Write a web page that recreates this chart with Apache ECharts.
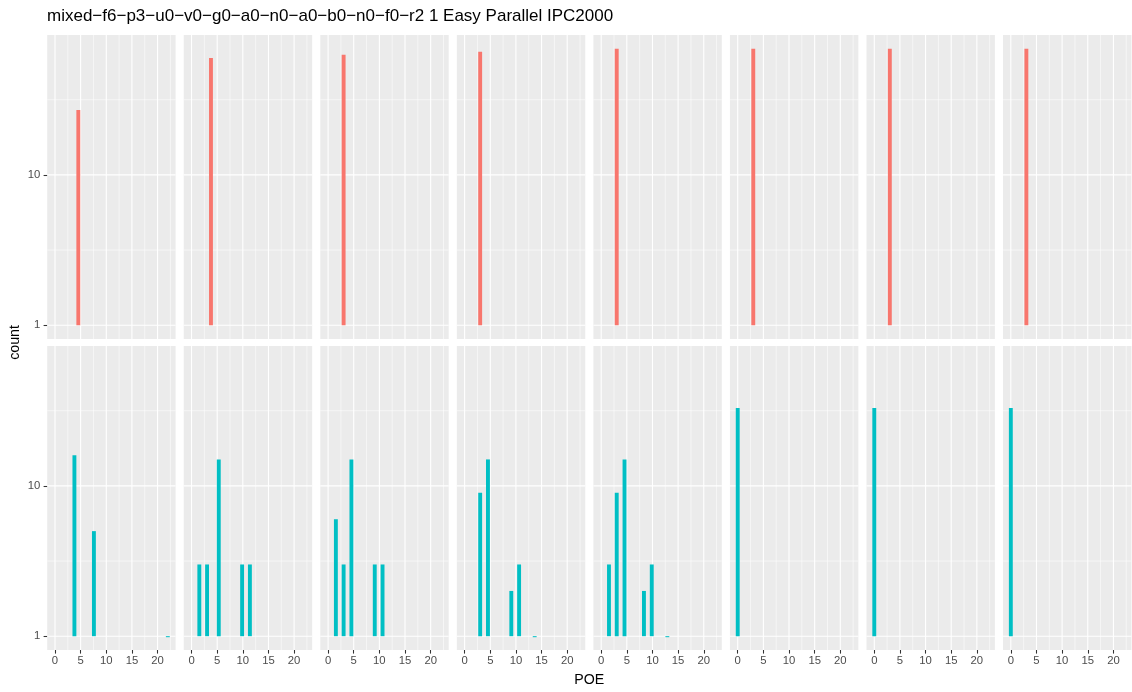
<!DOCTYPE html>
<html>
<head>
<meta charset="utf-8">
<script src="https://cdn.jsdelivr.net/npm/echarts@6/dist/echarts.min.js"></script>
<style>
  html, body { margin: 0; padding: 0; background: #ffffff; }
  #chart { width: 1132px; height: 692px; }
</style>
</head>
<body>
<div id="chart"></div>
<script>
// ---- data -------------------------------------------------------------
const titleText = 'mixed\u2212f6\u2212p3\u2212u0\u2212v0\u2212g0\u2212a0\u2212n0\u2212a0\u2212b0\u2212n0\u2212f0\u2212r2 1 Easy Parallel IPC2000';
const xTitle = 'POE';
const yTitle = 'count';

// x ticks (POE) and y ticks (count, log10 scale)
const xTicks = [0, 5, 10, 15, 20];
const yTicks = [1, 10];

// histogram: 30 bins spanning POE 0..22, bars at bin centres
const poeMin = 0;
const poeMax = 22;
const binCount = 30;

// top row (one bar per panel)
const topPoe   = [[4.55], [3.79], [3.03], [3.03], [3.03], [3.03], [3.03], [3.03]];
const topCount = [[27],   [60],   [63],   [66],   [69],   [69],   [69],   [69]];

// bottom row
const bottomPoe = [
  [3.79, 7.59, 22.0],
  [1.52, 3.03, 5.31, 9.86, 11.38],
  [1.52, 3.03, 4.55, 9.10, 10.62],
  [3.03, 4.55, 9.10, 10.62, 13.66],
  [1.52, 3.03, 4.55, 8.34, 9.86, 12.90],
  [0],
  [0],
  [0]
];
const bottomCount = [
  [16, 5, 1],
  [3, 3, 15, 3, 3],
  [6, 3, 15, 3, 3],
  [9, 15, 2, 3, 1],
  [3, 9, 15, 2, 3, 1],
  [33],
  [33],
  [33]
];

const rowColors = ['#F8766D', '#00BFC4'];

// ---- scales -------------------------------------------------------------
const binWidth = (poeMax - poeMin) / (binCount - 1);
const xLo = poeMin - binWidth / 2, xHi = poeMax + binWidth / 2;
const xPad = (xHi - xLo) * 0.05;
const xMin = xLo - xPad, xMax = xHi + xPad;

const allCounts = topCount.flat().concat(bottomCount.flat());
const logMax = Math.log10(Math.max(...allCounts));
const yMin = -logMax * 0.05, yMax = logMax * 1.05;

const yTickLog = yTicks.map(v => Math.log10(v));
const yMinorLog = yTickLog.map(v => v + 0.5);
const xMinor = xTicks.map(v => v + 2.5);

// grid line list: [isVertical, value, isMajor]
const gridLineData = []
  .concat(xMinor.map(v => [1, v, 0]))
  .concat(yMinorLog.map(v => [0, v, 0]))
  .concat(xTicks.map(v => [1, v, 1]))
  .concat(yTickLog.map(v => [0, v, 1]));

// ---- layout -------------------------------------------------------------
const panelLeft0 = 47.2, panelPitch = 136.55, panelW = 128.4;
const rowTop = [35, 346], panelH = 304;
const FONT = 'Liberation Sans, Arial, Helvetica, sans-serif';

const grids = [], xAxes = [], yAxes = [], series = [];
const rows = [[topPoe, topCount], [bottomPoe, bottomCount]];

rows.forEach(([poeRows, countRows], r) => {
  for (let c = 0; c < 8; c++) {
    const idx = grids.length;
    grids.push({
      left: panelLeft0 + c * panelPitch, top: rowTop[r],
      width: panelW, height: panelH,
      show: true, backgroundColor: '#EBEBEB', borderWidth: 0, containLabel: false
    });
    xAxes.push({
      gridIndex: idx, type: 'value', min: xMin, max: xMax, position: 'bottom',
      axisLine: { show: false, onZero: false },
      axisTick: { show: r === 1, customValues: xTicks, length: 3.6,
                  lineStyle: { color: '#333333', width: 1.07 } },
      axisLabel: { show: r === 1, customValues: xTicks, color: '#4D4D4D',
                   fontSize: 11.3, fontFamily: FONT, margin: 5 },
      splitLine: { show: false }
    });
    yAxes.push({
      gridIndex: idx, type: 'value', min: yMin, max: yMax, position: 'left',
      axisLine: { show: false, onZero: false },
      axisTick: { show: c === 0, customValues: yTickLog, length: 3.6,
                  lineStyle: { color: '#333333', width: 1.07 } },
      axisLabel: { show: c === 0, customValues: yTickLog, color: '#4D4D4D',
                   fontSize: 11.3, fontFamily: FONT, margin: 7,
                   formatter: v => String(Math.round(Math.pow(10, v))) },
      splitLine: { show: false }
    });

    // panel grid lines (minor thin, major thicker), drawn beneath the bars
    series.push({
      type: 'custom', xAxisIndex: idx, yAxisIndex: idx, z: 1, clip: true, silent: true,
      encode: { x: 1, y: 1 },
      data: gridLineData,
      renderItem: (params, api) => {
        const vertical = api.value(0) === 1, v = api.value(1), major = api.value(2) === 1;
        const a = vertical ? api.coord([v, yMin]) : api.coord([xMin, v]);
        const b = vertical ? api.coord([v, yMax]) : api.coord([xMax, v]);
        return { type: 'line',
                 shape: { x1: a[0], y1: a[1], x2: b[0], y2: b[1] },
                 style: { stroke: '#FFFFFF', lineWidth: major ? 1.1 : 0.55 } };
      }
    });

    // histogram bars drawn from count 1 upward on the log10 scale
    const data = poeRows[c].map((p, i) => [p, Math.log10(countRows[c][i])]);
    const color = rowColors[r];
    series.push({
      type: 'custom', xAxisIndex: idx, yAxisIndex: idx, z: 3, clip: true, silent: true,
      data: data,
      renderItem: (params, api) => {
        const x = api.value(0), ly = api.value(1);
        const p0 = api.coord([x - binWidth / 2, 0]);
        const p1 = api.coord([x + binWidth / 2, ly]);
        let top = p1[1], h = p0[1] - p1[1];
        if (h < 1) { top = p0[1]; h = 1; }
        return { type: 'rect',
                 shape: { x: p0[0], y: top, width: p1[0] - p0[0], height: h },
                 style: { fill: color } };
      }
    });
  }
});

const chart = echarts.init(document.getElementById('chart'), null, { renderer: 'canvas' });
chart.setOption({
  animation: false,
  backgroundColor: '#FFFFFF',
  grid: grids, xAxis: xAxes, yAxis: yAxes, series: series,
  graphic: [
    { type: 'text', left: 47, top: 8,
      style: { text: titleText, fill: '#000000', fontSize: 17, fontFamily: FONT } },
    { type: 'text', x: panelLeft0 + (7 * panelPitch + panelW) / 2, y: 680,
      style: { text: xTitle, fill: '#000000', fontSize: 14.2, fontFamily: FONT,
               align: 'center', verticalAlign: 'middle' } },
    { type: 'text', x: 15, y: (rowTop[0] + rowTop[1] + panelH) / 2, rotation: Math.PI / 2,
      style: { text: yTitle, fill: '#000000', fontSize: 14.2, fontFamily: FONT,
               align: 'center', verticalAlign: 'middle' } }
  ]
});
</script>
</body>
</html>
